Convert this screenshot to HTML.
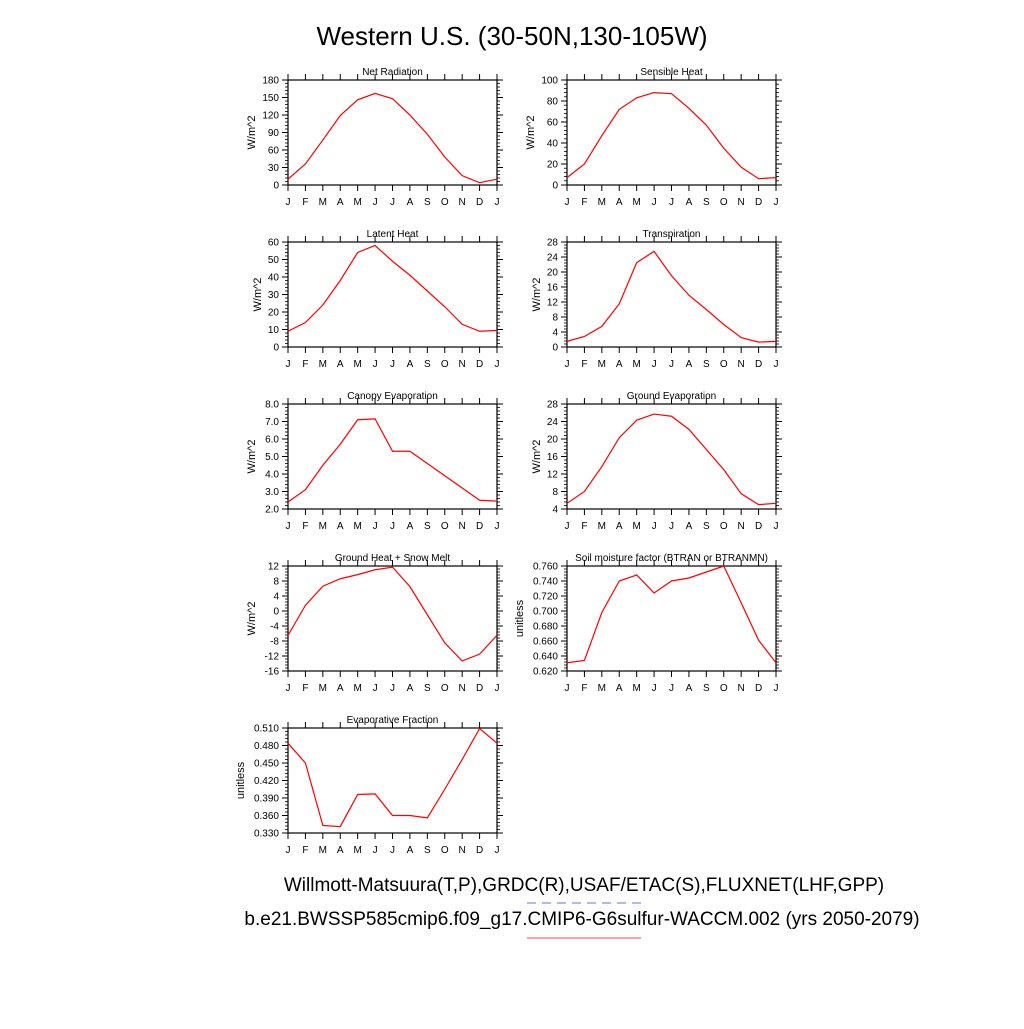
<!DOCTYPE html>
<html><head><meta charset="utf-8"><style>
body{margin:0;background:#fff;font-family:"Liberation Sans",sans-serif}
svg text{font-family:"Liberation Sans",sans-serif}
</style></head><body>
<svg id="s" width="1024" height="1024" xmlns="http://www.w3.org/2000/svg">
<rect width="1024" height="1024" fill="#fff"/>
<text x="512" y="45" font-size="26" text-anchor="middle">Western U.S. (30-50N,130-105W)</text>
<text x="584" y="891" font-size="19" text-anchor="middle">Willmott-Matsuura(T,P),GRDC(R),USAF/ETAC(S),FLUXNET(LHF,GPP)</text>
<line x1="527" y1="903" x2="641" y2="903" stroke="#6a6aff" stroke-width="1" stroke-dasharray="9,6"/>
<text x="582" y="925" font-size="19" text-anchor="middle">b.e21.BWSSP585cmip6.f09_g17.CMIP6-G6sulfur-WACCM.002 (yrs 2050-2079)</text>
<line x1="527" y1="938" x2="641" y2="938" stroke="#ff4444" stroke-width="1"/>
</svg>
<script>
const months=["J","F","M","A","M","J","J","A","S","O","N","D","J"];
const netRad=[10,36,77,119,146,157,148,120,87,48,16,4,10];
const sensible=[7,20,47,72,83,88,87,73,57,35,17,6,7];
const latent=[9,14,24,38,54,58,49,41,32,23,13,9,9.5];
const transp=[1.5,2.8,5.5,11.5,22.5,25.5,19,13.8,10,6,2.5,1.3,1.5];
const canopy=[2.4,3.1,4.5,5.7,7.1,7.15,5.3,5.3,4.6,3.9,3.2,2.5,2.45];
const groundEvap=[5.3,8,13.7,20.3,24.3,25.7,25.2,22.2,17.6,13,7.5,5,5.3];
const groundHeat=[-6.5,1.5,6.6,8.6,9.7,11,11.7,6.5,-1,-8.5,-13.3,-11.5,-6.5];
const btran=[0.631,0.634,0.698,0.740,0.748,0.724,0.740,0.744,0.752,0.760,0.711,0.661,0.631];
const evapFrac=[0.484,0.450,0.343,0.341,0.396,0.397,0.360,0.360,0.356,0.405,0.456,0.509,0.484];
const ticksNR=[0,30,60,90,120,150,180];
const ticksSH=[0,20,40,60,80,100];
const ticksLH=[0,10,20,30,40,50,60];
const ticksTR=[0,4,8,12,16,20,24,28];
const ticksCE=[2,3,4,5,6,7,8];
const ticksGE=[4,8,12,16,20,24,28];
const ticksGH=[-16,-12,-8,-4,0,4,8,12];
const ticksBT=[0.62,0.64,0.66,0.68,0.70,0.72,0.74,0.76];
const ticksEF=[0.33,0.36,0.39,0.42,0.45,0.48,0.51];
const NS="http://www.w3.org/2000/svg";
const svg=document.getElementById('s');
function mk(t,a,p){const e=document.createElementNS(NS,t);for(const k in a)e.setAttribute(k,a[k]);(p||svg).appendChild(e);return e;}
function panel(name,title,ylab,vals,ticks,dec,x0,y0){
  const W=209,H=105;
  const g=mk('g',{});
  
  
  const lo=ticks[0],hi=ticks[ticks.length-1];
  const X=i=>x0+i*W/12, Y=v=>y0+H-(v-lo)/(hi-lo)*H;
  const step=ticks[1]-ticks[0];
  // minor ticks
  for(let k=0;k<(ticks.length-1)*5;k++){const v=lo+k*step/5;if(k%5===0)continue;const y=Y(v);
    mk('line',{x1:x0-3,y1:y,x2:x0,y2:y,stroke:'#000','stroke-width':0.8},g);
    mk('line',{x1:x0+W,y1:y,x2:x0+W+3,y2:y,stroke:'#000','stroke-width':0.8},g);}
  ticks.forEach(v=>{const y=Y(v);
    mk('line',{x1:x0-6,y1:y,x2:x0,y2:y,stroke:'#000'},g);
    mk('line',{x1:x0+W,y1:y,x2:x0+W+6,y2:y,stroke:'#000'},g);
    const t=mk('text',{x:x0-9,y:y+3.5,'font-size':10,'text-anchor':'end'},g);t.textContent=v.toFixed(dec);
    
    });
  months.forEach((m,i)=>{const x=X(i);
    mk('line',{x1:x,y1:y0+H,x2:x,y2:y0+H+6,stroke:'#000'},g);
    mk('line',{x1:x,y1:y0-6,x2:x,y2:y0,stroke:'#000'},g);
    const t=mk('text',{x:x,y:y0+H+20,'font-size':10,'text-anchor':'middle'},g);t.textContent=m;
    
    });
  mk('rect',{x:x0,y:y0,width:W,height:H,fill:'none',stroke:'#000','stroke-width':1.2},g);
  const tt=mk('text',{x:x0+W/2,y:y0-5,'font-size':10,'text-anchor':'middle'},g);tt.textContent=title;
  
  
  const maxw=Math.max(...ticks.map(v=>v.toFixed(dec).length));
  const yl=x0-12-maxw*5.6-4;
  const l=mk('text',{x:yl,y:y0+H/2,'font-size':11,'text-anchor':'middle',transform:`rotate(-90 ${yl} ${y0+H/2})`},g);l.textContent=ylab;
  
  
  const pl=mk('polyline',{points:vals.map((v,i)=>X(i)+','+Y(v)).join(' '),fill:'none',stroke:'#ff0000','stroke-width':1.2},g);
  
  
}
panel('net-radiation','Net Radiation','W/m^2',netRad,ticksNR,0,288,80);
panel('sensible-heat','Sensible Heat','W/m^2',sensible,ticksSH,0,567,80);
panel('latent-heat','Latent Heat','W/m^2',latent,ticksLH,0,288,242);
panel('transpiration','Transpiration','W/m^2',transp,ticksTR,0,567,242);
panel('canopy-evaporation','Canopy Evaporation','W/m^2',canopy,ticksCE,1,288,404);
panel('ground-evaporation','Ground Evaporation','W/m^2',groundEvap,ticksGE,0,567,404);
panel('ground-heat','Ground Heat + Snow Melt','W/m^2',groundHeat,ticksGH,0,288,566);
panel('soil-moisture','Soil moisture factor (BTRAN or BTRANMN)','unitless',btran,ticksBT,3,567,566);
panel('evaporative-fraction','Evaporative Fraction','unitless',evapFrac,ticksEF,3,288,728);
</script>
</body></html>
